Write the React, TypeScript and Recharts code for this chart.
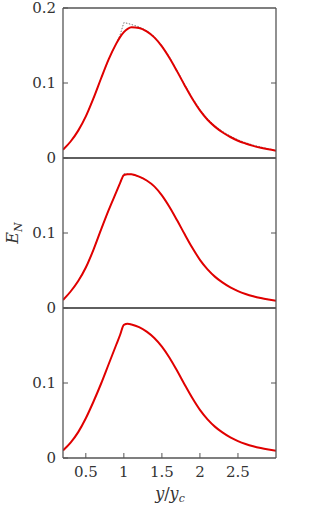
import React from 'react';
import { LineChart, Line, XAxis, YAxis } from 'recharts';

// y / y_c sample points (shared by all three panels)
const xs = [0.2, 0.3, 0.4, 0.5, 0.6, 0.7, 0.8, 0.9, 0.95, 1.0, 1.05, 1.1, 1.2, 1.3, 1.4, 1.5, 1.6, 1.7, 1.8, 1.9, 2.0, 2.1, 2.2, 2.3, 2.4, 2.5, 2.6, 2.7, 2.8, 2.9, 3.0];

// top panel
const topRed = [0.011, 0.022, 0.0365, 0.0555, 0.0795, 0.106, 0.1315, 0.1525, 0.1612, 0.1678, 0.1722, 0.1742, 0.1733, 0.1688, 0.1608, 0.1488, 0.1333, 0.1155, 0.0968, 0.079, 0.0635, 0.051, 0.0415, 0.034, 0.028, 0.023, 0.0193, 0.0162, 0.0137, 0.0116, 0.0098];
const topGray = [0.011, 0.022, 0.0365, 0.0555, 0.0795, 0.106, 0.1315, 0.1525, 0.164, 0.1805, 0.1795, 0.178, 0.1748, 0.1698, 0.162, 0.15, 0.1345, 0.1167, 0.098, 0.0802, 0.0647, 0.0522, 0.0427, 0.0352, 0.0292, 0.0242, 0.0204, 0.0172, 0.0146, 0.0123, 0.0101];

// middle panel
const midRed = [0.0106, 0.022, 0.036, 0.054, 0.0776, 0.1045, 0.1305, 0.1545, 0.1665, 0.1772, 0.1785, 0.1782, 0.1752, 0.17, 0.1622, 0.1502, 0.1347, 0.1169, 0.0982, 0.0802, 0.0642, 0.0515, 0.0415, 0.0338, 0.0275, 0.0226, 0.0187, 0.0156, 0.0132, 0.0113, 0.0097];
const midGray = [0.0106, 0.022, 0.036, 0.054, 0.0776, 0.1045, 0.1305, 0.1545, 0.1665, 0.179, 0.1787, 0.1782, 0.1752, 0.17, 0.1622, 0.1502, 0.1347, 0.1169, 0.0982, 0.0802, 0.0642, 0.0515, 0.0415, 0.0338, 0.0275, 0.0226, 0.0187, 0.0156, 0.0132, 0.0113, 0.0097];

// bottom panel
const botRed = [0.0101, 0.0205, 0.0345, 0.053, 0.075, 0.099, 0.125, 0.151, 0.164, 0.1775, 0.179, 0.178, 0.1745, 0.1685, 0.16, 0.1485, 0.1337, 0.1162, 0.0978, 0.08, 0.0642, 0.0515, 0.0415, 0.0338, 0.0275, 0.0226, 0.0187, 0.0156, 0.0132, 0.0113, 0.0097];

const xTicks = [0.5, 1, 1.5, 2, 2.5];
const yTicksTop = [0, 0.1, 0.2];
const yTicks = [0, 0.1];

const FONT = 'DejaVu Serif';
const AXIS = '#555';
const RED = '#e00000';

const LeftTick = (props: any) => {
  const { x, y, payload } = props;
  return (
    <g>
      <line x1={x} x2={x + 5} y1={y} y2={y} stroke={AXIS} strokeWidth={1} />
      <text x={x - 7} y={y} dy="0.35em" textAnchor="end" fontSize={15} fontFamily={FONT} fill="#333">
        {String(payload.value)}
      </text>
    </g>
  );
};

const RightTick = (props: any) => {
  const { x, y } = props;
  return <line x1={x} x2={x - 5} y1={y} y2={y} stroke={AXIS} strokeWidth={1} />;
};

const BottomTick = (props: any) => {
  const { x, y, payload, showLabel } = props;
  return (
    <g>
      <line x1={x} x2={x} y1={y} y2={y - 5} stroke={AXIS} strokeWidth={1} />
      {showLabel && (
        <text x={x} y={y + 14} dy="0.35em" textAnchor="middle" fontSize={15} fontFamily={FONT} fill="#333">
          {String(payload.value)}
        </text>
      )}
    </g>
  );
};

function Panel({ red, gray, yTickVals, height, bottom, last }: { red: number[]; gray?: number[]; yTickVals: number[]; height: number; bottom: number; last: boolean }) {
  const rows = xs.map((x, i) => ({ x, red: red[i], gray: gray ? gray[i] : null }));
  return (
    <LineChart width={312} height={height} data={rows} margin={{ top: 7, right: 35, bottom, left: 62 }}>
      <XAxis
        dataKey="x"
        type="number"
        domain={[0.2, 3]}
        allowDataOverflow
        ticks={last ? xTicks : []}
        interval={0}
        height={1}
        tickSize={0}
        tickMargin={0}
        axisLine={{ stroke: AXIS, strokeWidth: 1.3 }}
        tickLine={false}
        tick={(p: any) => <BottomTick {...p} showLabel={last} />}
      />
      <XAxis
        xAxisId="top"
        orientation="top"
        dataKey="x"
        type="number"
        domain={[0.2, 3]}
        allowDataOverflow
        ticks={[]}
        height={1}
        axisLine={{ stroke: AXIS, strokeWidth: 1.3 }}
        tickLine={false}
        tick={false}
      />
      <YAxis
        yAxisId="l"
        type="number"
        domain={[0, 0.2]}
        allowDataOverflow
        ticks={yTickVals}
        interval={0}
        width={1}
        tickSize={0}
        tickMargin={0}
        axisLine={{ stroke: AXIS, strokeWidth: 1.3 }}
        tickLine={false}
        tick={LeftTick}
      />
      <YAxis
        yAxisId="r"
        orientation="right"
        type="number"
        domain={[0, 0.2]}
        allowDataOverflow
        ticks={[0.1]}
        interval={0}
        width={1}
        tickSize={0}
        tickMargin={0}
        axisLine={{ stroke: AXIS, strokeWidth: 1.3 }}
        tickLine={false}
        tick={RightTick}
      />
      {gray && (
        <Line
          yAxisId="l"
          dataKey="gray"
          type="linear"
          stroke="#777"
          strokeWidth={1}
          strokeDasharray="1.5 1.5"
          dot={false}
          isAnimationActive={false}
        />
      )}
      <Line yAxisId="l" dataKey="red" type="monotone" stroke={RED} strokeWidth={2} dot={false} isAnimationActive={false} />
    </LineChart>
  );
}

export default function App() {
  return (
    <div style={{ position: 'relative', width: 312, height: 505, background: '#fff', fontFamily: FONT }}>
      <style>{'body{margin:0}'}</style>
      <div style={{ position: 'absolute', left: 0, top: 0 }}>
        <Panel red={topRed} gray={topGray} yTickVals={yTicksTop} height={170} bottom={11} last={false} />
      </div>
      <div style={{ position: 'absolute', left: 0, top: 150 }}>
        <Panel red={midRed} gray={midGray} yTickVals={yTicks} height={170} bottom={11} last={false} />
      </div>
      <div style={{ position: 'absolute', left: 0, top: 300 }}>
        <Panel red={botRed} yTickVals={yTicks} height={205} bottom={46} last />
      </div>
      <svg style={{ position: 'absolute', left: 0, top: 0, pointerEvents: 'none' }} width={312} height={505}>
        <text transform="translate(18 233) rotate(-90)" textAnchor="middle" fontSize={16} fontFamily={FONT} fill="#333">
          <tspan fontStyle="italic">E</tspan>
          <tspan fontStyle="italic" fontSize={11} dy={4}>N</tspan>
        </text>
        <text x={170} y={499} textAnchor="middle" fontSize={16} fontFamily={FONT} fill="#333">
          <tspan fontStyle="italic">y</tspan>
          <tspan>/</tspan>
          <tspan fontStyle="italic">y</tspan>
          <tspan fontStyle="italic" fontSize={11} dy={3}>c</tspan>
        </text>
      </svg>
    </div>
  );
}
